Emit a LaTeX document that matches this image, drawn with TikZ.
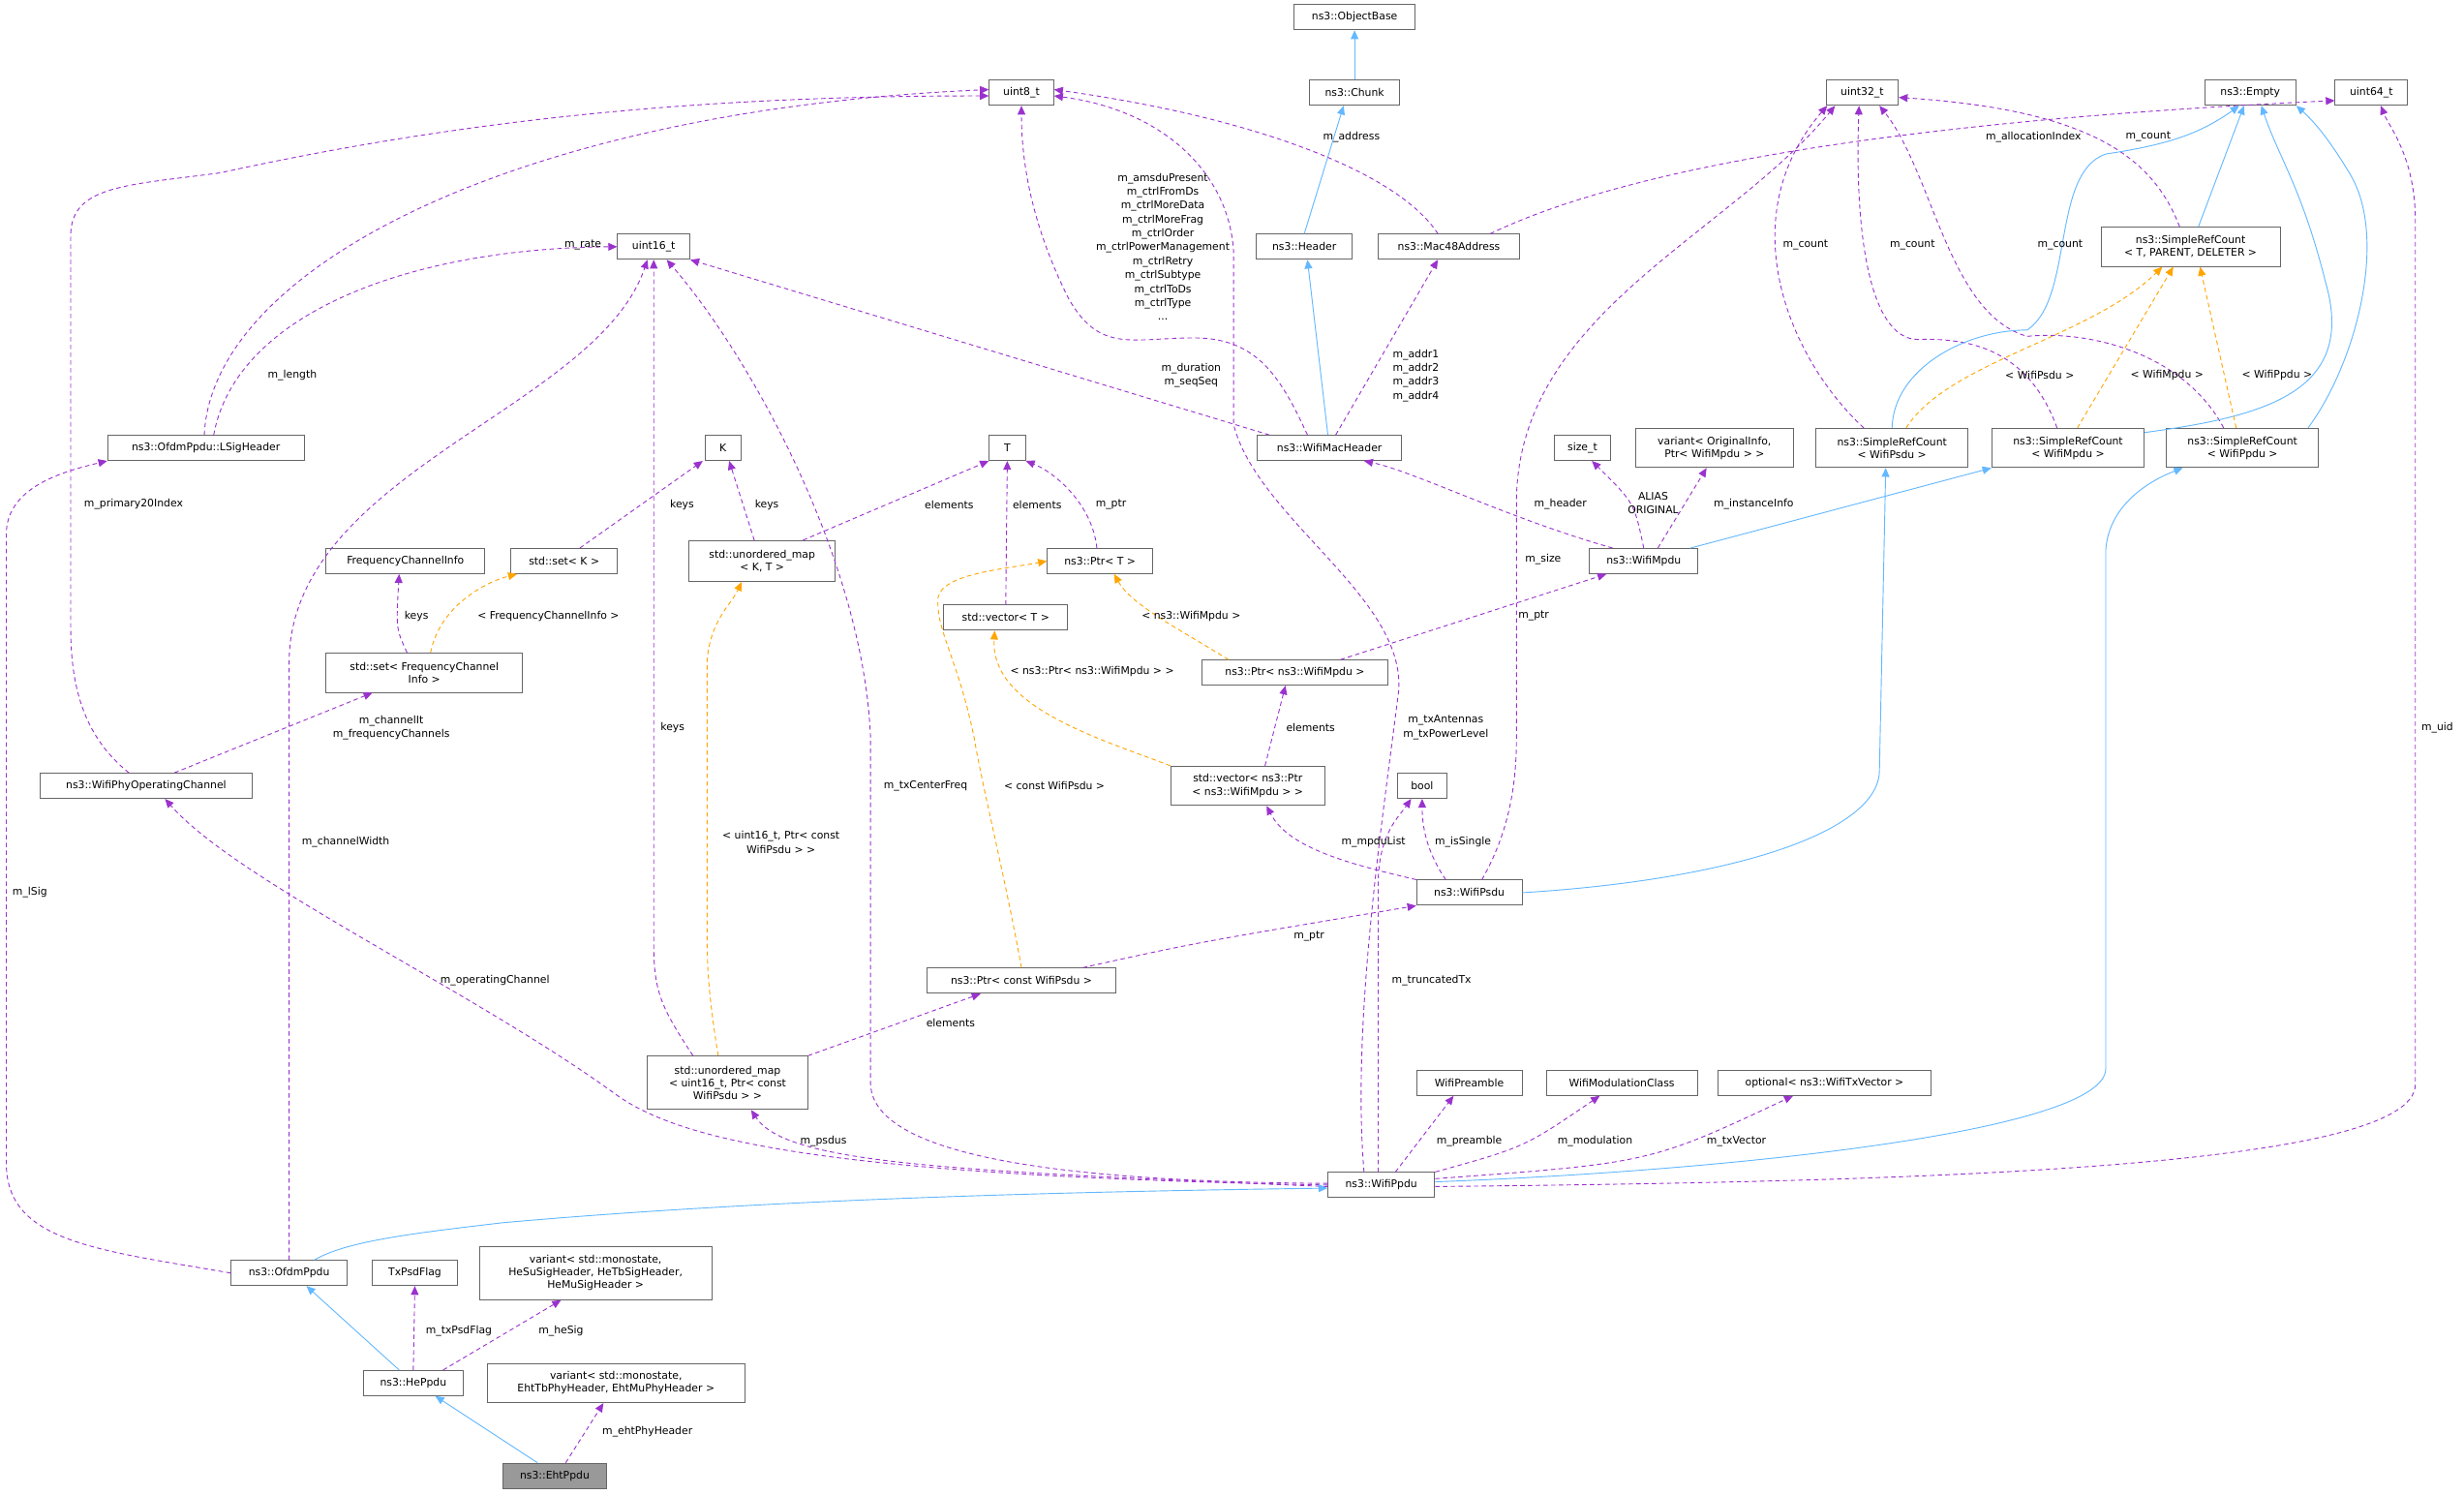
\documentclass[tikz,border=0pt]{standalone}
\usepackage{fontspec}
\setmainfont{DejaVu Sans}
\usetikzlibrary{arrows.meta,calc}
\definecolor{purp}{HTML}{9A32CD}
\definecolor{inh}{HTML}{63B8FF}
\definecolor{tpl}{HTML}{FFA500}
\definecolor{bord}{HTML}{666666}
\begin{document}
\begin{tikzpicture}[x=0.05cm,y=-0.05cm,
 bx/.style={draw=bord,fill=white,line width=0.8pt,inner sep=1pt,align=center,font=\fontsize{9.5}{11.5}\selectfont},
 lbl/.style={inner sep=0pt,align=center,font=\fontsize{9.5}{12.6}\selectfont},
 mem/.style={draw=purp,line width=0.8pt,dash pattern=on 4pt off 3pt,-{Triangle[length=8pt,width=7pt]},color=purp},
 tmp/.style={draw=tpl,line width=0.8pt,dash pattern=on 4pt off 3pt,-{Triangle[length=8pt,width=7pt]},color=tpl},
 inhe/.style={draw=inh,line width=0.8pt,-{Triangle[length=8pt,width=7pt,open,fill=inh]},color=inh}]
\useasboundingbox (0,0) rectangle (1568,951);
\fill[white] (0,0) rectangle (1568,951);
\newcommand\bxs[5]{\node[bx,minimum width=#3*0.05cm,minimum height=#4*0.05cm] (#1) at (#2) {#5};}
\bxs{u8}{650,59}{41}{16}{uint8\_t}
\bxs{objbase}{862,11}{77}{16}{ns3::ObjectBase}
\bxs{chunk}{862,59}{57}{16}{ns3::Chunk}
\bxs{u32}{1185,59}{46}{16}{uint32\_t}
\bxs{empty}{1432,59}{58}{16}{ns3::Empty}
\bxs{u64}{1509,59}{46}{16}{uint64\_t}
\bxs{u16}{416,157}{46}{16}{uint16\_t}
\bxs{header}{830,157}{61}{16}{ns3::Header}
\bxs{mac48}{922,157}{90}{16}{ns3::Mac48Address}
\bxs{srcT}{1394,157}{114}{25}{ns3::SimpleRefCount\\< T, PARENT, DELETER >}
\bxs{lsig}{131,285}{125}{16}{ns3::OfdmPpdu::LSigHeader}
\bxs{K}{460,285}{23}{16}{K}
\bxs{T}{641,285}{23}{16}{T}
\bxs{wmh}{846,285}{92}{16}{ns3::WifiMacHeader}
\bxs{sizet}{1007,285}{36}{16}{size\_t}
\bxs{variant1}{1091,285}{100}{25}{variant< OriginalInfo,\\Ptr< WifiMpdu > >}
\bxs{srcPsdu}{1204,285}{97}{25}{ns3::SimpleRefCount\\< WifiPsdu >}
\bxs{srcMpdu}{1316,285}{97}{25}{ns3::SimpleRefCount\\< WifiMpdu >}
\bxs{srcPpdu}{1427,285}{97}{25}{ns3::SimpleRefCount\\< WifiPpdu >}
\bxs{fci}{258,357}{101}{16}{FrequencyChannelInfo}
\bxs{setK}{359,357}{68}{16}{std::set< K >}
\bxs{umapKT}{485,357}{93}{26}{std::unordered\_map\\< K, T >}
\bxs{wmpdu}{1046,357}{69}{16}{ns3::WifiMpdu}
\bxs{ptrT}{700,357}{67}{16}{ns3::Ptr< T >}
\bxs{vecT}{640,393}{79}{16}{std::vector< T >}
\bxs{setFCI}{270,428}{125}{25}{std::set< FrequencyChannel\\Info >}
\bxs{ptrMpdu}{824,428}{118}{16}{ns3::Ptr< ns3::WifiMpdu >}
\bxs{wpoc}{93,500}{135}{16}{ns3::WifiPhyOperatingChannel}
\bxs{vecPtr}{794,500}{98}{25}{std::vector< ns3::Ptr\\< ns3::WifiMpdu > >}
\bxs{bool}{905,500}{31}{16}{bool}
\bxs{wpsdu}{935,568}{67}{16}{ns3::WifiPsdu}
\bxs{ptrC}{650,624}{120}{16}{ns3::Ptr< const WifiPsdu >}
\bxs{umapU}{463,689}{102}{34}{std::unordered\_map\\< uint16\_t, Ptr< const\\WifiPsdu > >}
\bxs{preamble}{935,689}{67}{16}{WifiPreamble}
\bxs{modcls}{1032,689}{96}{16}{WifiModulationClass}
\bxs{optional}{1161,689}{135}{16}{optional< ns3::WifiTxVector >}
\bxs{wppdu}{879,754}{68}{16}{ns3::WifiPpdu}
\bxs{ofdm}{184,810}{74}{16}{ns3::OfdmPpdu}
\bxs{txpsd}{264,810}{54}{16}{TxPsdFlag}
\bxs{heSig}{379,810}{148}{34}{variant< std::monostate,\\ HeSuSigHeader, HeTbSigHeader,\\HeMuSigHeader >}
\bxs{hePpdu}{263,880}{63}{16}{ns3::HePpdu}
\bxs{ehtTb}{392,880}{164}{25}{variant< std::monostate,\\ EhtTbPhyHeader, EhtMuPhyHeader >}
\node[bx,fill=gray!80,minimum width=66*0.05cm,minimum height=16*0.05cm] (eht) at (353,939) {ns3::EhtPpdu};
% edges
\draw[mem] ($(lsig.north)+(-1,0)$) .. controls (135,170) and (330,70) .. ($(u8.west)+(0,-2)$);
\draw[mem] ($(lsig.north)+(5,0)$) .. controls (150,200) and (260,158) .. (u16.west);
\draw[mem] ($(wpoc.north)+(-11,0)$) .. controls (55,470) and (45,440) .. (45,400) -- (45,150) .. controls (45,118) and (80,118) .. (140,110) .. controls (300,75) and (450,61) .. ($(u8.west)+(0,2)$);
\draw[mem] ($(wpoc.north)+(18,0)$) -- ($(setFCI.south)+(-33,0)$);
\draw[mem] (ofdm.west) .. controls (60,795) and (4,790) .. (4,740) -- (4,340) .. controls (4,310) and (40,300) .. (lsig.south west);
\draw[mem] (ofdm.north) -- (184,420) .. controls (186,300) and (380,260) .. ($(u16.south)+(-4,0)$);
\draw[mem] ($(umapU.north)+(-22,0)$) .. controls (420,640) and (416,630) .. (416,600) -- (u16.south);
\draw[tmp] ($(umapU.north)+(-6,0)$) .. controls (452,640) and (450,620) .. (450,600) -- (450,420) .. controls (452,395) and (465,385) .. ($(umapKT.south)+(-13,0)$);
\draw[mem] ($(wppdu.west)+(0,-1)$) .. controls (700,752) and (556,740) .. (554,690) -- (554,470) .. controls (550,360) and (480,230) .. ($(u16.south east)+(-15,0)$);
\draw[mem] (wppdu.west) .. controls (520,748) and (430,725) .. (390,695) .. controls (300,630) and (150,560) .. ($(wpoc.south)+(12,0)$);
\draw[mem] ($(wppdu.west)+(0,1)$) .. controls (600,745) and (500,740) .. ($(umapU.south)+(15,0)$);
\draw[mem] ($(wppdu.north)+(-11,0)$) .. controls (860,650) and (880,520) .. (890,440) .. controls (895,380) and (800,330) .. (785,270) -- (785,160) .. controls (782,110) and (740,70) .. ($(u8.east)+(0,2)$);
\draw[mem] ($(wppdu.north)+(-2,0)$) -- (877,560) .. controls (878,530) and (890,520) .. ($(bool.south)+(-7,0)$);
\draw[mem] ($(wpsdu.north)+(-15,0)$) .. controls (910,545) and (905,530) .. (bool.south);
\draw[mem] (wpsdu.north west) .. controls (860,550) and (820,540) .. ($(vecPtr.south)+(12,0)$);
\draw[mem] ($(wpsdu.north)+(8,0)$) .. controls (960,530) and (965,500) .. (965,470) -- (965,320) .. controls (965,200) and (1100,150) .. ($(u32.south west)+(6,0)$);
\draw[mem] ($(ptrC.north)+(39,0)$) .. controls (760,600) .. (wpsdu.south west);
\draw[tmp] (ptrC.north) .. controls (640,560) and (625,500) .. (620,470) .. controls (610,420) and (595,400) .. (597,380) .. controls (600,365) and (640,362) .. (ptrT.west);
\draw[mem] (umapU.north east) -- ($(ptrC.south)+(-26,0)$);
\draw[tmp] (vecPtr.north west) .. controls (700,470) and (630,450) .. ($(vecT.south)+(-7,0)$);
\draw[mem] ($(vecPtr.north)+(11,0)$) -- ($(ptrMpdu.south)+(-6,0)$);
\draw[tmp] ($(ptrMpdu.north west)+(17,0)$) .. controls (750,400) and (720,385) .. ($(ptrT.south)+(9,0)$);
\draw[mem] ($(ptrMpdu.north)+(29,0)$) -- ($(wmpdu.south west)+(11,0)$);
\draw[mem] (vecT.north) -- (T.south);
\draw[mem] ($(ptrT.north)+(-2,0)$) .. controls (695,320) and (670,300) .. (T.south east);
\draw[mem] ($(umapKT.north)+(26,0)$) -- (T.south west);
\draw[mem] ($(umapKT.north)+(-5,0)$) -- ($(K.south)+(4,0)$);
\draw[mem] ($(setK.north)+(10,0)$) -- ($(K.south west)+(-1,0)$);
\draw[mem] ($(setFCI.north)+(-11,0)$) .. controls (252,400) .. ($(fci.south)+(-4,0)$);
\draw[tmp] ($(setFCI.north)+(4,0)$) .. controls (280,385) and (310,370) .. ($(setK.south)+(-30,0)$);
\draw[mem] ($(wmpdu.north west)+(15,0)$) .. controls (960,330) and (900,300) .. ($(wmh.south)+(22,0)$);
\draw[mem] (wmpdu.north) .. controls (1040,320) .. ($(sizet.south)+(6,0)$);
\draw[mem] ($(wmpdu.north)+(9,0)$) -- ($(variant1.south)+(-5,0)$);
\draw[inhe] ($(wmpdu.north east)+(-5,0)$) -- (srcMpdu.south west);
\draw[inhe] ($(wmh.north)+(-1,0)$) -- ($(header.south)+(2,0)$);
\draw[mem] ($(wmh.north)+(4,0)$) -- ($(mac48.south)+(-7,0)$);
\draw[mem] ($(wmh.north west)+(8,0)$) -- (u16.south east);
\draw[mem] ($(wmh.north)+(-14,0)$) .. controls (815,240) and (800,215) .. (760,215) .. controls (720,215) and (700,225) .. (680,190) .. controls (655,140) and (650,100) .. (u8.south);
\draw[inhe] (header.north) -- ($(chunk.south)+(-7,0)$);
\draw[inhe] (chunk.north) -- (objbase.south);
\draw[mem] ($(mac48.north)+(-7,0)$) .. controls (890,110) and (800,75) .. ($(u8.east)+(0,-2)$);
\draw[mem] ($(mac48.north east)+(-19,0)$) .. controls (1050,100) and (1250,75) .. ($(u64.west)+(0,5)$);
\draw[mem] ($(srcT.north)+(-7,0)$) .. controls (1370,100) and (1330,70) .. ($(u32.east)+(0,3)$);
\draw[inhe] ($(srcT.north)+(5,0)$) -- ($(empty.south)+(-4,0)$);
\draw[mem] ($(srcPsdu.north)+(-18,0)$) .. controls (1140,230) and (1100,140) .. ($(u32.south west)+(1,0)$);
\draw[mem] ($(srcMpdu.north)+(-7,0)$) .. controls (1290,220) and (1250,215) .. (1220,216) .. controls (1190,215) and (1180,150) .. ($(u32.south)+(-2,0)$);
\draw[mem] ($(srcPpdu.north)+(-12,0)$) .. controls (1390,225) and (1330,210) .. (1290,214) .. controls (1240,200) and (1230,110) .. ($(u32.south)+(11,0)$);
\draw[inhe] (srcPsdu.north) .. controls (1205,235) and (1250,210) .. (1290,210) .. controls (1320,190) and (1305,110) .. (1340,98) .. controls (1380,92) and (1400,85) .. ($(empty.south)+(-7,0)$);
\draw[inhe] ($(srcMpdu.north east)+(0,3)$) .. controls (1440,265) and (1500,250) .. (1480,180) .. controls (1465,120) and (1450,100) .. ($(empty.south)+(7,0)$);
\draw[inhe] ($(srcPpdu.north east)+(-7,0)$) .. controls (1500,230) and (1520,150) .. (1495,110) .. controls (1480,85) and (1470,75) .. (empty.south east);
\draw[tmp] ($(srcPsdu.north)+(9,0)$) .. controls (1240,230) and (1330,215) .. ($(srcT.south)+(-18,0)$);
\draw[tmp] ($(srcMpdu.north)+(6,0)$) -- ($(srcT.south)+(-11,0)$);
\draw[tmp] ($(srcPpdu.north)+(-4,0)$) -- ($(srcT.south)+(6,0)$);
\draw[inhe] (wpsdu.east) .. controls (1100,560) and (1196,530) .. (1196,490) -- ($(srcPsdu.south)+(-4,0)$);
\draw[inhe] ($(wppdu.east)+(0,-2)$) .. controls (1100,745) and (1340,720) .. (1340,680) -- (1340,350) .. controls (1342,320) and (1370,305) .. ($(srcPpdu.south)+(-38,0)$);
\draw[mem] ($(wppdu.east)+(0,1)$) .. controls (1200,752) and (1537,745) .. (1537,690) -- (1537,140) .. controls (1537,100) and (1520,80) .. ($(u64.south)+(6,0)$);
\draw[mem] ($(wppdu.north)+(9,0)$) -- ($(preamble.south)+(-10,0)$);
\draw[mem] (wppdu.north east) .. controls (970,730) .. ($(modcls.south)+(-14,0)$);
\draw[mem] ($(wppdu.east)+(0,-4)$) .. controls (1050,740) .. ($(optional.south)+(-20,0)$);
\draw[inhe] ($(ofdm.north)+(16,0)$) .. controls (220,790) and (260,785) .. (320,778) .. controls (500,762) and (700,758) .. ($(wppdu.west)+(0,2)$);
\draw[inhe] ($(hePpdu.north)+(-9,0)$) -- ($(ofdm.south)+(11,0)$);
\draw[mem] (hePpdu.north) -- (txpsd.south);
\draw[mem] ($(hePpdu.north)+(19,0)$) -- ($(heSig.south)+(-22,0)$);
\draw[inhe] ($(eht.north)+(-11,0)$) -- ($(hePpdu.south)+(14,0)$);
\draw[mem] ($(eht.north)+(7,0)$) -- ($(ehtTb.south)+(-8,0)$);
% labels
\node[lbl] (l1) at (371,156) {m\_rate};
\node[lbl] (l2) at (186,239) {m\_length};
\node[lbl] (l3) at (85,321) {m\_primary20Index};
\node[lbl] (l4) at (434,321) {keys};
\node[lbl] (l5) at (488,321) {keys};
\node[lbl] (l6) at (604,321) {elements};
\node[lbl] (l7) at (660,321) {elements};
\node[lbl] (l8) at (707,321) {m\_ptr};
\node[lbl] (l9) at (265,392) {keys};
\node[lbl] (l10) at (349,392) {< FrequencyChannelInfo >};
\node[lbl] (l11) at (695,427) {< ns3::Ptr< ns3::WifiMpdu > >};
\node[lbl] (l12) at (249,463) {m\_channelIt\\m\_frequencyChannels};
\node[lbl] (l13) at (428,463) {keys};
\node[lbl] (l14) at (758,239) {m\_duration\\m\_seqSeq};
\node[lbl] (l15) at (740,157) {m\_amsduPresent\\m\_ctrlFromDs\\m\_ctrlMoreData\\m\_ctrlMoreFrag\\m\_ctrlOrder\\m\_ctrlPowerManagement\\m\_ctrlRetry\\m\_ctrlSubtype\\m\_ctrlToDs\\m\_ctrlType\\...};
\node[lbl] (l16) at (860,87) {m\_address};
\node[lbl] (l17) at (1294,87) {m\_allocationIndex};
\node[lbl] (l18) at (1367,87) {m\_count};
\node[lbl] (l19) at (1149,156) {m\_count};
\node[lbl] (l20) at (1217,156) {m\_count};
\node[lbl] (l21) at (1311,156) {m\_count};
\node[lbl] (l22) at (1298,239) {< WifiPsdu >};
\node[lbl] (l23) at (1379,239) {< WifiMpdu >};
\node[lbl] (l24) at (1449,239) {< WifiPpdu >};
\node[lbl] (l25) at (901,239) {m\_addr1\\m\_addr2\\m\_addr3\\m\_addr4};
\node[lbl] (l26) at (993,321) {m\_header};
\node[lbl] (l27) at (1052,320) {ALIAS\\ORIGINAL};
\node[lbl] (l28) at (1116,321) {m\_instanceInfo};
\node[lbl] (l29) at (982,356) {m\_size};
\node[lbl] (l30) at (976,392) {m\_ptr};
\node[lbl] (l31) at (758,392) {< ns3::WifiMpdu >};
\node[lbl] (l32) at (834,463) {elements};
\node[lbl] (l33) at (920,463) {m\_txAntennas\\m\_txPowerLevel};
\node[lbl] (l34) at (1551,463) {m\_uid};
\node[lbl] (l35) at (589,500) {m\_txCenterFreq};
\node[lbl] (l36) at (671,500) {< const WifiPsdu >};
\node[lbl] (l37) at (220,536) {m\_channelWidth};
\node[lbl] (l38) at (497,536) {< uint16\_t, Ptr< const\\WifiPsdu > >};
\node[lbl] (l39) at (19,568) {m\_lSig};
\node[lbl] (l40) at (315,624) {m\_operatingChannel};
\node[lbl] (l41) at (605,651) {elements};
\node[lbl] (l42) at (524,726) {m\_psdus};
\node[lbl] (l43) at (292,847) {m\_txPsdFlag};
\node[lbl] (l44) at (357,847) {m\_heSig};
\node[lbl] (l45) at (412,911) {m\_ehtPhyHeader};
\node[lbl] (l46) at (874,536) {m\_mpduList};
\node[lbl] (l47) at (931,536) {m\_isSingle};
\node[lbl] (l48) at (833,596) {m\_ptr};
\node[lbl] (l49) at (911,624) {m\_truncatedTx};
\node[lbl] (l50) at (935,726) {m\_preamble};
\node[lbl] (l51) at (1015,726) {m\_modulation};
\node[lbl] (l52) at (1105,726) {m\_txVector};
\end{tikzpicture}
\end{document}
